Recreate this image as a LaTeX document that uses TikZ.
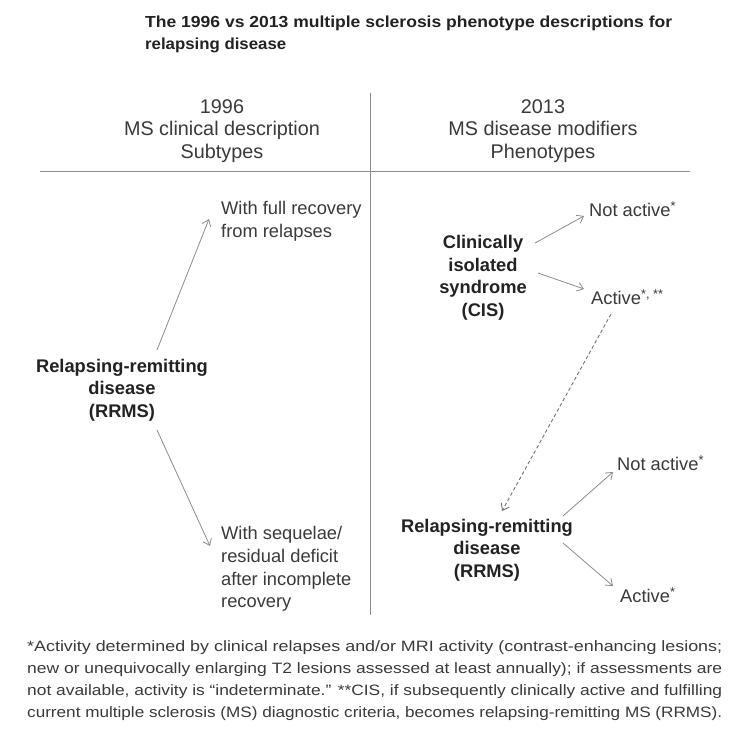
\documentclass[tikz,border=0pt]{standalone}
\usepackage{fontspec}
\setmainfont{Liberation Sans}
\usetikzlibrary{arrows.meta}
\definecolor{txt}{HTML}{3A3A3A}
\definecolor{btxt}{HTML}{222222}
\definecolor{ln}{HTML}{8C8C8C}
\newlength\fitlen
\newcommand\fitto[2]{\settowidth\fitlen{#2}\pgfmathsetmacro\fitsx{#1/\fitlen}\scalebox{\fitsx}[1]{#2}}
\tikzset{
  hdr/.style={font=\fontsize{19.8}{22.5}\selectfont, text=txt, align=center, inner sep=0pt},
  lbl/.style={font=\fontsize{18.3}{22.8}\selectfont, text=txt, align=left, inner sep=0pt, anchor=west},
  blbl/.style={font=\bfseries\fontsize{18.3}{22.5}\selectfont, text=btxt, align=center, inner sep=0pt},
  ttl/.style={font=\bfseries\fontsize{16}{22}\selectfont, text=btxt, inner sep=0pt, anchor=base west},
  fn/.style={font=\fontsize{15}{22}\selectfont, text=txt, inner sep=0pt, anchor=base west},
  rule/.style={draw=ln, line width=0.8pt},
  arr/.style={draw=ln, line width=0.8pt, -{Straight Barb[length=6pt,width=9pt]}},
  darr/.style={arr, draw=gray!90!black, line width=0.9pt, dash pattern=on 3.5pt off 2.5pt}
}
\begin{document}
\begin{tikzpicture}[x=1pt,y=-1pt]
\useasboundingbox (0,0) rectangle (729,729);
\fill[white] (0,0) rectangle (729,729);
% title
\node[ttl] (t1) at (145,27) {\fitto{527}{The 1996 vs 2013 multiple sclerosis phenotype descriptions for}};
\node[ttl] (t2) at (145,49) {\fitto{141}{relapsing disease}};
% headers
\node[hdr] (h1) at (222,131) {1996\\MS clinical description\\Subtypes};
\node[hdr] (h2) at (543,131) {2013\\MS disease modifiers\\Phenotypes};
\coordinate (hl) at (40,171);
\coordinate (hr) at (690,171);
\coordinate (vt) at (370,93);
\coordinate (vb) at (370,615);
\draw[rule] (hl) -- (hr);
\draw[rule] (vt) -- (vb);
% left side
\node[blbl] (rrmsL) at (122,390) {Relapsing-remitting\\disease\\(RRMS)};
\node[lbl] (full) at (221,221) {With full recovery\\from relapses};
\node[lbl] (seq) at (221,569) {With sequelae/\\residual deficit\\after incomplete\\recovery};
\coordinate (a1s) at (157,350);
\coordinate (a1e) at (209,219);
\coordinate (a2s) at (157,430);
\coordinate (a2e) at (210,546);
\draw[arr] (a1s) -- (a1e);
\draw[arr] (a2s) -- (a2e);
% right side
\node[blbl] (cis) at (483,278) {Clinically\\isolated\\syndrome\\(CIS)};
\node[lbl] (na1) at (589,209) {Not active\textsuperscript{*}};
\node[lbl] (ac1) at (591,297) {Active\textsuperscript{*, **}};
\node[blbl] (rrmsR) at (487,550) {Relapsing-remitting\\disease\\(RRMS)};
\node[lbl] (na2) at (617,463) {Not active\textsuperscript{*}};
\node[lbl] (ac2) at (620,595) {Active\textsuperscript{*}};
\coordinate (b1s) at (535,243);
\coordinate (b1e) at (584,216);
\coordinate (b2s) at (538,273);
\coordinate (b2e) at (584,289);
\coordinate (ds) at (611,314);
\coordinate (de) at (502,511);
\coordinate (c1s) at (563,516);
\coordinate (c1e) at (613,472);
\coordinate (c2s) at (563,543);
\coordinate (c2e) at (613,586);
\draw[arr] (b1s) -- (b1e);
\draw[arr] (b2s) -- (b2e);
\draw[darr] (ds) -- (de);
\draw[arr] (c1s) -- (c1e);
\draw[arr] (c2s) -- (c2e);
% footnote
\node[fn] (f1) at (27,651) {\fitto{695}{*Activity determined by clinical relapses and/or MRI activity (contrast-enhancing lesions;}};
\node[fn] (f2) at (27,673) {\fitto{695}{new or unequivocally enlarging T2 lesions assessed at least annually); if assessments are}};
\node[fn] (f3) at (27,695) {\fitto{695}{not available, activity is “indeterminate.” **CIS, if subsequently clinically active and fulfilling}};
\node[fn] (f4) at (27,717) {\fitto{695}{current multiple sclerosis (MS) diagnostic criteria, becomes relapsing-remitting MS (RRMS).}};
\end{tikzpicture}
\end{document}
